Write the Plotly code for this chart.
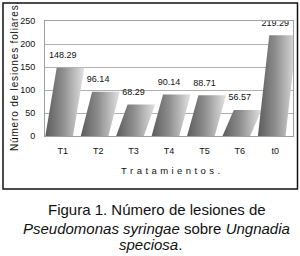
import plotly.graph_objects as go

categories = ["T1", "T2", "T3", "T4", "T5", "T6", "t0"]
values = [148.29, 96.14, 68.29, 90.14, 88.71, 56.57, 219.29]
value_labels = ["148.29", "96.14", "68.29", "90.14", "88.71", "56.57", "219.29"]
y_ticks = [0, 50, 100, 150, 200, 250]

W, H = 300, 256
L, R, T, B = 45, 7, 21, 120
pw, ph = W - L - R, H - T - B

def px_x(p):
    return (p - L) / pw

def px_y(p):
    return (H - B - p) / ph

fig = go.Figure()

bw, off, lo = 0.78, 0.32, -0.49
grad = dict(type="horizontal",
            colorscale=[[0, "#5c5c5c"], [0.45, "#8e8e8e"], [1, "#e2e2e2"]])
for i, v in enumerate(values):
    xs = [i + lo, i + lo + off, i + lo + off + bw, i + lo + bw, i + lo]
    ys = [0, v, v, 0, 0]
    fig.add_trace(go.Scatter(x=xs, y=ys, mode="lines", fill="toself",
                             line=dict(width=0, color="rgba(0,0,0,0)"),
                             fillgradient=grad, hoverinfo="skip",
                             showlegend=False))

fig.add_trace(go.Scatter(x=list(range(len(values))), y=values, mode="markers+text",
                         text=value_labels, textposition="top center",
                         marker=dict(size=10, color="rgba(0,0,0,0)"),
                         textfont=dict(family="Liberation Sans, Arial", size=9, color="#111"),
                         cliponaxis=False, showlegend=False, hoverinfo="skip"))

fig.update_xaxes(range=[-0.5, 6.5], tickmode="array",
                 tickvals=list(range(len(categories))), ticktext=categories,
                 showgrid=False, zeroline=False, showline=True, linecolor="#a0a0a0",
                 linewidth=1, mirror=True, ticks="", ticklabelstandoff=6,
                 tickfont=dict(family="Liberation Sans, Arial", size=9, color="#111"))
fig.update_yaxes(range=[0, 250], tickmode="array", tickvals=y_ticks,
                 showgrid=True, gridcolor="#b0b0b0", gridwidth=1, zeroline=False,
                 showline=True, linecolor="#a0a0a0", linewidth=1, mirror=True,
                 ticks="", ticklabelstandoff=7,
                 tickfont=dict(family="Liberation Sans, Arial", size=9, color="#111"))

# outer frame
fig.add_shape(type="rect", xref="paper", yref="paper",
              x0=px_x(3), x1=px_x(297.5), y0=px_y(189), y1=px_y(3),
              line=dict(color="#111", width=1.5), fillcolor="rgba(0,0,0,0)", layer="above")

def note(text, x, y, size, angle=0):
    fig.add_annotation(text=text, xref="paper", yref="paper", x=px_x(x), y=px_y(y),
                       xanchor="center", yanchor="middle", showarrow=False,
                       textangle=angle,
                       font=dict(family="Liberation Sans, Arial", size=size, color="#111"))

HS = "\u200a"
x_title = (" " + HS).join("Tratamientos.")
y_title = HS.join("Número de lesiones foliares.")

note(x_title, 170, 170, 9.5)
note(y_title, 14, 77, 10, angle=-90)
note("Figura 1. Número de lesiones de", 157, 210, 15)
note("<i>Pseudomonas syringae</i> sobre <i>Ungnadia</i>", 156, 228, 15)
note("<i>speciosa</i>.", 150, 245, 15)

fig.update_layout(width=W, height=H, margin=dict(l=L, r=R, t=T, b=B),
                  paper_bgcolor="white", plot_bgcolor="white", showlegend=False)

fig.write_html("out.html")
